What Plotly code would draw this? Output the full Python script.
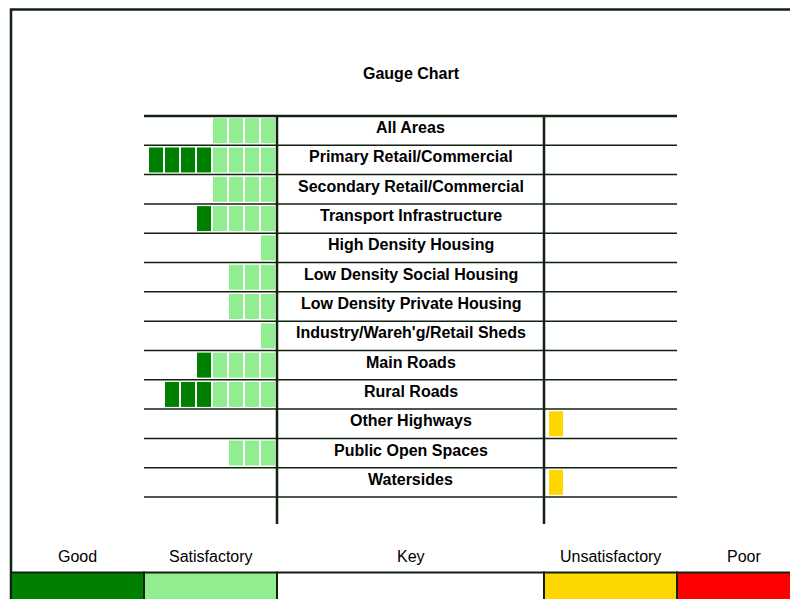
import plotly.graph_objects as go

categories = ["All Areas", "Primary Retail/Commercial", "Secondary Retail/Commercial",
              "Transport Infrastructure", "High Density Housing", "Low Density Social Housing",
              "Low Density Private Housing", "Industry/Wareh'g/Retail Sheds", "Main Roads",
              "Rural Roads", "Other Highways", "Public Open Spaces", "Watersides"]
good = [0, 4, 0, 1, 0, 0, 0, 0, 1, 3, 0, 0, 0]
satisfactory = [4, 4, 4, 4, 1, 3, 3, 1, 4, 4, 0, 3, 0]
unsatisfactory = [0, 0, 0, 0, 0, 0, 0, 0, 0, 0, 1, 0, 1]
poor = [0, 0, 0, 0, 0, 0, 0, 0, 0, 0, 0, 0, 0]

key_labels = ["Good", "Satisfactory", "Key", "Unsatisfactory", "Poor"]
key_colors = ["#008000", "#90EE90", "#FFFFFF", "#FFD700", "#FF0000"]

# page has an 8px body margin, so the figure starts at page pixel 8;
# the chart is a bit bigger than the window and gets cut at the edges
OFF = 8
W, H = 812, 606
LINE = "#112211"
FONT = "Liberation Sans, Arial, sans-serif"
col_edges = [11, 144, 277, 544, 677, 811]
left_div, right_div = col_edges[2], col_edges[3]
block, pitch = 14, 16

# y axis: category rows, scaled so row i spans page pixel 116 + i*row
row = (497 - 116) / len(categories)
y_top = -0.5 - (116 - OFF) / row
y_bot = y_top + H / row


def py(p):
    return y_top + (p - OFF) / row


def paper_y(p):
    return 1 - (p - OFF) / H


fig = go.Figure()


def add_blocks(counts, offsets, color, side):
    ys, bases = [], []
    for cat, n, off in zip(categories, counts, offsets):
        for k in range(off, off + n):
            ys.append(cat)
            if side == "left":
                bases.append(left_div - 2 - block - pitch * k)
            else:
                bases.append(right_div + 5 + pitch * k)
    fig.add_trace(go.Bar(y=ys, x=[block] * len(ys), base=bases, orientation="h",
                         width=25 / row, marker=dict(color=color, line=dict(width=0)),
                         showlegend=False, hoverinfo="skip"))


add_blocks(satisfactory, [0] * len(categories), key_colors[1], "left")
add_blocks(good, satisfactory, key_colors[0], "left")
add_blocks(unsatisfactory, [0] * len(categories), key_colors[3], "right")
add_blocks(poor, unsatisfactory, key_colors[4], "right")

shapes = []
# row lines
for i in range(len(categories) + 1):
    shapes.append(dict(type="line", xref="x", yref="y", x0=col_edges[1], x1=col_edges[4],
                       y0=i - 0.5, y1=i - 0.5,
                       line=dict(color=LINE, width=2.5 if i == 0 else 1.5)))
# dividers
for xd in (left_div, right_div):
    shapes.append(dict(type="line", xref="x", yref="y", x0=xd, x1=xd,
                       y0=-0.5, y1=py(524), line=dict(color=LINE, width=2.5)))
# outer border
shapes.append(dict(type="rect", xref="x", yref="paper", x0=11, x1=col_edges[-1] + 2,
                   y0=-0.2, y1=paper_y(9.5), line=dict(color=LINE, width=2.5)))
# key bar
for i, c in enumerate(key_colors):
    shapes.append(dict(type="rect", xref="x", yref="paper", x0=col_edges[i], x1=col_edges[i + 1],
                       y0=-0.1, y1=paper_y(572.5), fillcolor=c, line=dict(color=LINE, width=2)))

annotations = []
for cat in categories:
    annotations.append(dict(x=(left_div + right_div) / 2, y=cat, xref="x", yref="y",
                            text="<b>" + cat + "</b>", showarrow=False, yshift=3,
                            xanchor="center", yanchor="middle",
                            font=dict(family=FONT, size=16, color="#000000")))
for i, lab in enumerate(key_labels):
    annotations.append(dict(x=(col_edges[i] + col_edges[i + 1]) / 2, y=paper_y(556),
                            xref="x", yref="paper", text=lab, showarrow=False,
                            xanchor="center", yanchor="middle",
                            font=dict(family=FONT, size=16, color="#000000")))

fig.update_layout(
    width=W, height=H,
    margin=dict(l=0, r=0, t=0, b=0),
    paper_bgcolor="white", plot_bgcolor="white",
    title=dict(text="<b>Gauge Chart</b>", x=(411 - OFF) / W, xanchor="center",
               y=paper_y(73), yanchor="middle", font=dict(family=FONT, size=16, color="#000000")),
    xaxis=dict(range=[OFF, OFF + W], visible=False, fixedrange=True),
    yaxis=dict(type="category", categoryarray=categories, range=[y_bot, y_top],
               visible=False, fixedrange=True),
    barmode="overlay",
    shapes=shapes,
    annotations=annotations,
)

fig.write_html("out.html")
